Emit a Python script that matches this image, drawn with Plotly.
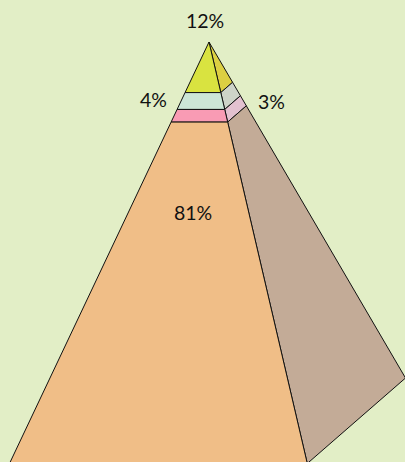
import plotly.graph_objects as go

categories = ["Top", "Second", "Third", "Base"]
values = [12, 4, 3, 81]
labels = ["12%", "4%", "3%", "81%"]

front_colors = ["#D9E340", "#CCE6D6", "#F99BB4", "#F0BE87"]
side_colors = ["#DCCF42", "#CDD3C8", "#E3C1CF", "#C3AB97"]
background = "#E2EEC6"

# Projection of the pyramid: apex and the three visible base corners on the canvas
APEX = (209, 42)
LEFT = (9.5, 463.5)
FRONT = (307.3, 463.5)
RIGHT = (405.5, 378)
label_pos = [(205, 20), (153, 99), (271.5, 101), (193, 212)]


def along(corner, t):
    return (APEX[0] + t * (corner[0] - APEX[0]), APEX[1] + t * (corner[1] - APEX[1]))


def band(c1, c2, t0, t1):
    pts = [along(c1, t0), along(c2, t0), along(c2, t1), along(c1, t1), along(c1, t0)]
    return [p[0] for p in pts], [p[1] for p in pts]


total = sum(values)
fig = go.Figure()
cum = 0
for name, v, fc, sc in zip(categories, values, front_colors, side_colors):
    t0, t1 = cum / total, (cum + v) / total
    cum += v
    for (a, b, col) in ((FRONT, RIGHT, sc), (LEFT, FRONT, fc)):
        xs, ys = band(a, b, t0, t1)
        fig.add_trace(go.Scatter(
            x=xs, y=ys, mode="lines", fill="toself", fillcolor=col, name=name,
            line=dict(color="#111111", width=1), hoverinfo="skip", showlegend=False,
        ))

for text, (x, y) in zip(labels, label_pos):
    fig.add_annotation(x=x, y=y, text=text, showarrow=False,
                       font=dict(family="Lato", size=19.5, color="#111111"))

fig.update_layout(
    width=405, height=462,
    margin=dict(l=0, r=0, t=0, b=0),
    paper_bgcolor=background, plot_bgcolor=background,
    xaxis=dict(range=[0, 405], visible=False, fixedrange=True),
    yaxis=dict(range=[462, 0], visible=False, fixedrange=True),
    showlegend=False,
)
fig.write_html(
    "out.html",
    config={"displayModeBar": False},
    post_script="document.body.style.margin='0';document.body.style.overflow='hidden';",
)
